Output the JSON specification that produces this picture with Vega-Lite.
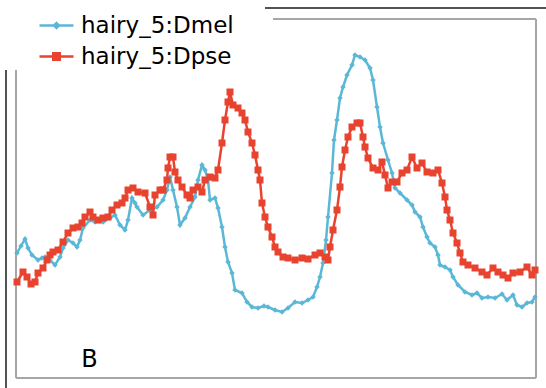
{
  "$schema": "https://vega.github.io/schema/vega-lite/v6.json",
  "width": 520,
  "height": 359,
  "autosize": {"type": "none"},
  "padding": {"left": 16, "top": 19, "right": 10, "bottom": 10},
  "background": "white",
  "config": {"view": {"stroke": null}, "font": "DejaVu Sans"},
  "datasets": {
    "frameGray": [
      {"x": 0, "x2": 520, "y": 0, "y2": 0},
      {"x": 520, "x2": 520, "y": 0, "y2": 359},
      {"x": 257, "x2": 520, "y": 359, "y2": 359},
      {"x": 0, "x2": 0, "y": 0, "y2": 308}
    ],
    "frameBlack": [
      {"x": 249, "x2": 530, "y": 370, "y2": 370},
      {"x": -10, "x2": -10, "y": -10, "y2": 308}
    ],
    "series": [
      {"series": "hairy_5:Dmel", "x": 1, "y": 125}, {"series": "hairy_5:Dmel", "x": 5, "y": 132}, {"series": "hairy_5:Dmel", "x": 9, "y": 139}, {"series": "hairy_5:Dmel", "x": 12, "y": 130}, {"series": "hairy_5:Dmel", "x": 16, "y": 123}, {"series": "hairy_5:Dmel", "x": 22, "y": 118}, {"series": "hairy_5:Dmel", "x": 26, "y": 120}, {"series": "hairy_5:Dmel", "x": 29, "y": 121}, {"series": "hairy_5:Dmel", "x": 34, "y": 118}, {"series": "hairy_5:Dmel", "x": 39, "y": 113}, {"series": "hairy_5:Dmel", "x": 44, "y": 121}, {"series": "hairy_5:Dmel", "x": 47, "y": 130}, {"series": "hairy_5:Dmel", "x": 52, "y": 138}, {"series": "hairy_5:Dmel", "x": 57, "y": 135}, {"series": "hairy_5:Dmel", "x": 61, "y": 131}, {"series": "hairy_5:Dmel", "x": 64, "y": 138}, {"series": "hairy_5:Dmel", "x": 67, "y": 150}, {"series": "hairy_5:Dmel", "x": 74, "y": 158}, {"series": "hairy_5:Dmel", "x": 79, "y": 156}, {"series": "hairy_5:Dmel", "x": 87, "y": 156}, {"series": "hairy_5:Dmel", "x": 94, "y": 160}, {"series": "hairy_5:Dmel", "x": 99, "y": 163}, {"series": "hairy_5:Dmel", "x": 104, "y": 153}, {"series": "hairy_5:Dmel", "x": 109, "y": 148}, {"series": "hairy_5:Dmel", "x": 112, "y": 158}, {"series": "hairy_5:Dmel", "x": 116, "y": 180}, {"series": "hairy_5:Dmel", "x": 119, "y": 175}, {"series": "hairy_5:Dmel", "x": 121, "y": 171}, {"series": "hairy_5:Dmel", "x": 127, "y": 163}, {"series": "hairy_5:Dmel", "x": 134, "y": 168}, {"series": "hairy_5:Dmel", "x": 141, "y": 171}, {"series": "hairy_5:Dmel", "x": 147, "y": 178}, {"series": "hairy_5:Dmel", "x": 151, "y": 188}, {"series": "hairy_5:Dmel", "x": 154, "y": 201}, {"series": "hairy_5:Dmel", "x": 157, "y": 188}, {"series": "hairy_5:Dmel", "x": 161, "y": 171}, {"series": "hairy_5:Dmel", "x": 164, "y": 153}, {"series": "hairy_5:Dmel", "x": 169, "y": 160}, {"series": "hairy_5:Dmel", "x": 174, "y": 171}, {"series": "hairy_5:Dmel", "x": 179, "y": 181}, {"series": "hairy_5:Dmel", "x": 182, "y": 198}, {"series": "hairy_5:Dmel", "x": 186, "y": 213}, {"series": "hairy_5:Dmel", "x": 189, "y": 208}, {"series": "hairy_5:Dmel", "x": 192, "y": 198}, {"series": "hairy_5:Dmel", "x": 194, "y": 178}, {"series": "hairy_5:Dmel", "x": 199, "y": 180}, {"series": "hairy_5:Dmel", "x": 202, "y": 170}, {"series": "hairy_5:Dmel", "x": 206, "y": 151}, {"series": "hairy_5:Dmel", "x": 209, "y": 131}, {"series": "hairy_5:Dmel", "x": 212, "y": 116}, {"series": "hairy_5:Dmel", "x": 216, "y": 105}, {"series": "hairy_5:Dmel", "x": 219, "y": 88}, {"series": "hairy_5:Dmel", "x": 226, "y": 85}, {"series": "hairy_5:Dmel", "x": 231, "y": 76}, {"series": "hairy_5:Dmel", "x": 236, "y": 71}, {"series": "hairy_5:Dmel", "x": 242, "y": 70}, {"series": "hairy_5:Dmel", "x": 248, "y": 72}, {"series": "hairy_5:Dmel", "x": 252, "y": 71}, {"series": "hairy_5:Dmel", "x": 259, "y": 68}, {"series": "hairy_5:Dmel", "x": 266, "y": 66}, {"series": "hairy_5:Dmel", "x": 272, "y": 70}, {"series": "hairy_5:Dmel", "x": 279, "y": 76}, {"series": "hairy_5:Dmel", "x": 286, "y": 75}, {"series": "hairy_5:Dmel", "x": 292, "y": 78}, {"series": "hairy_5:Dmel", "x": 297, "y": 81}, {"series": "hairy_5:Dmel", "x": 301, "y": 91}, {"series": "hairy_5:Dmel", "x": 304, "y": 101}, {"series": "hairy_5:Dmel", "x": 307, "y": 115}, {"series": "hairy_5:Dmel", "x": 310, "y": 138}, {"series": "hairy_5:Dmel", "x": 312, "y": 161}, {"series": "hairy_5:Dmel", "x": 316, "y": 205}, {"series": "hairy_5:Dmel", "x": 318, "y": 238}, {"series": "hairy_5:Dmel", "x": 321, "y": 258}, {"series": "hairy_5:Dmel", "x": 324, "y": 280}, {"series": "hairy_5:Dmel", "x": 327, "y": 291}, {"series": "hairy_5:Dmel", "x": 331, "y": 303}, {"series": "hairy_5:Dmel", "x": 336, "y": 313}, {"series": "hairy_5:Dmel", "x": 339, "y": 323}, {"series": "hairy_5:Dmel", "x": 344, "y": 321}, {"series": "hairy_5:Dmel", "x": 349, "y": 318}, {"series": "hairy_5:Dmel", "x": 354, "y": 310}, {"series": "hairy_5:Dmel", "x": 357, "y": 298}, {"series": "hairy_5:Dmel", "x": 361, "y": 271}, {"series": "hairy_5:Dmel", "x": 364, "y": 251}, {"series": "hairy_5:Dmel", "x": 367, "y": 235}, {"series": "hairy_5:Dmel", "x": 372, "y": 218}, {"series": "hairy_5:Dmel", "x": 376, "y": 205}, {"series": "hairy_5:Dmel", "x": 379, "y": 190}, {"series": "hairy_5:Dmel", "x": 384, "y": 185}, {"series": "hairy_5:Dmel", "x": 391, "y": 178}, {"series": "hairy_5:Dmel", "x": 396, "y": 173}, {"series": "hairy_5:Dmel", "x": 399, "y": 166}, {"series": "hairy_5:Dmel", "x": 404, "y": 161}, {"series": "hairy_5:Dmel", "x": 407, "y": 151}, {"series": "hairy_5:Dmel", "x": 411, "y": 141}, {"series": "hairy_5:Dmel", "x": 414, "y": 135}, {"series": "hairy_5:Dmel", "x": 419, "y": 131}, {"series": "hairy_5:Dmel", "x": 422, "y": 123}, {"series": "hairy_5:Dmel", "x": 424, "y": 113}, {"series": "hairy_5:Dmel", "x": 429, "y": 111}, {"series": "hairy_5:Dmel", "x": 434, "y": 108}, {"series": "hairy_5:Dmel", "x": 437, "y": 101}, {"series": "hairy_5:Dmel", "x": 442, "y": 93}, {"series": "hairy_5:Dmel", "x": 449, "y": 86}, {"series": "hairy_5:Dmel", "x": 456, "y": 83}, {"series": "hairy_5:Dmel", "x": 461, "y": 85}, {"series": "hairy_5:Dmel", "x": 466, "y": 80}, {"series": "hairy_5:Dmel", "x": 472, "y": 81}, {"series": "hairy_5:Dmel", "x": 479, "y": 80}, {"series": "hairy_5:Dmel", "x": 486, "y": 84}, {"series": "hairy_5:Dmel", "x": 491, "y": 78}, {"series": "hairy_5:Dmel", "x": 497, "y": 83}, {"series": "hairy_5:Dmel", "x": 501, "y": 73}, {"series": "hairy_5:Dmel", "x": 506, "y": 71}, {"series": "hairy_5:Dmel", "x": 511, "y": 75}, {"series": "hairy_5:Dmel", "x": 516, "y": 76}, {"series": "hairy_5:Dmel", "x": 519, "y": 81},
      {"series": "hairy_5:Dpse", "x": 1, "y": 96}, {"series": "hairy_5:Dpse", "x": 7, "y": 106}, {"series": "hairy_5:Dpse", "x": 11, "y": 101}, {"series": "hairy_5:Dpse", "x": 15, "y": 94}, {"series": "hairy_5:Dpse", "x": 19, "y": 96}, {"series": "hairy_5:Dpse", "x": 22, "y": 105}, {"series": "hairy_5:Dpse", "x": 27, "y": 110}, {"series": "hairy_5:Dpse", "x": 31, "y": 118}, {"series": "hairy_5:Dpse", "x": 34, "y": 123}, {"series": "hairy_5:Dpse", "x": 37, "y": 126}, {"series": "hairy_5:Dpse", "x": 42, "y": 128}, {"series": "hairy_5:Dpse", "x": 47, "y": 136}, {"series": "hairy_5:Dpse", "x": 52, "y": 145}, {"series": "hairy_5:Dpse", "x": 57, "y": 150}, {"series": "hairy_5:Dpse", "x": 62, "y": 151}, {"series": "hairy_5:Dpse", "x": 66, "y": 155}, {"series": "hairy_5:Dpse", "x": 69, "y": 161}, {"series": "hairy_5:Dpse", "x": 74, "y": 166}, {"series": "hairy_5:Dpse", "x": 77, "y": 161}, {"series": "hairy_5:Dpse", "x": 82, "y": 158}, {"series": "hairy_5:Dpse", "x": 87, "y": 160}, {"series": "hairy_5:Dpse", "x": 92, "y": 161}, {"series": "hairy_5:Dpse", "x": 96, "y": 168}, {"series": "hairy_5:Dpse", "x": 101, "y": 173}, {"series": "hairy_5:Dpse", "x": 106, "y": 175}, {"series": "hairy_5:Dpse", "x": 109, "y": 180}, {"series": "hairy_5:Dpse", "x": 112, "y": 188}, {"series": "hairy_5:Dpse", "x": 117, "y": 190}, {"series": "hairy_5:Dpse", "x": 122, "y": 186}, {"series": "hairy_5:Dpse", "x": 129, "y": 185}, {"series": "hairy_5:Dpse", "x": 134, "y": 171}, {"series": "hairy_5:Dpse", "x": 137, "y": 163}, {"series": "hairy_5:Dpse", "x": 139, "y": 183}, {"series": "hairy_5:Dpse", "x": 144, "y": 188}, {"series": "hairy_5:Dpse", "x": 147, "y": 188}, {"series": "hairy_5:Dpse", "x": 151, "y": 198}, {"series": "hairy_5:Dpse", "x": 152, "y": 210}, {"series": "hairy_5:Dpse", "x": 154, "y": 221}, {"series": "hairy_5:Dpse", "x": 157, "y": 221}, {"series": "hairy_5:Dpse", "x": 159, "y": 206}, {"series": "hairy_5:Dpse", "x": 162, "y": 198}, {"series": "hairy_5:Dpse", "x": 166, "y": 191}, {"series": "hairy_5:Dpse", "x": 171, "y": 183}, {"series": "hairy_5:Dpse", "x": 174, "y": 180}, {"series": "hairy_5:Dpse", "x": 177, "y": 188}, {"series": "hairy_5:Dpse", "x": 182, "y": 191}, {"series": "hairy_5:Dpse", "x": 186, "y": 186}, {"series": "hairy_5:Dpse", "x": 189, "y": 198}, {"series": "hairy_5:Dpse", "x": 194, "y": 201}, {"series": "hairy_5:Dpse", "x": 199, "y": 200}, {"series": "hairy_5:Dpse", "x": 202, "y": 208}, {"series": "hairy_5:Dpse", "x": 206, "y": 235}, {"series": "hairy_5:Dpse", "x": 209, "y": 258}, {"series": "hairy_5:Dpse", "x": 212, "y": 276}, {"series": "hairy_5:Dpse", "x": 214, "y": 286}, {"series": "hairy_5:Dpse", "x": 217, "y": 273}, {"series": "hairy_5:Dpse", "x": 222, "y": 270}, {"series": "hairy_5:Dpse", "x": 226, "y": 265}, {"series": "hairy_5:Dpse", "x": 229, "y": 258}, {"series": "hairy_5:Dpse", "x": 232, "y": 246}, {"series": "hairy_5:Dpse", "x": 236, "y": 235}, {"series": "hairy_5:Dpse", "x": 239, "y": 223}, {"series": "hairy_5:Dpse", "x": 242, "y": 208}, {"series": "hairy_5:Dpse", "x": 244, "y": 198}, {"series": "hairy_5:Dpse", "x": 246, "y": 175}, {"series": "hairy_5:Dpse", "x": 249, "y": 161}, {"series": "hairy_5:Dpse", "x": 252, "y": 151}, {"series": "hairy_5:Dpse", "x": 256, "y": 141}, {"series": "hairy_5:Dpse", "x": 259, "y": 131}, {"series": "hairy_5:Dpse", "x": 262, "y": 126}, {"series": "hairy_5:Dpse", "x": 267, "y": 121}, {"series": "hairy_5:Dpse", "x": 272, "y": 120}, {"series": "hairy_5:Dpse", "x": 279, "y": 118}, {"series": "hairy_5:Dpse", "x": 286, "y": 120}, {"series": "hairy_5:Dpse", "x": 292, "y": 119}, {"series": "hairy_5:Dpse", "x": 299, "y": 123}, {"series": "hairy_5:Dpse", "x": 304, "y": 125}, {"series": "hairy_5:Dpse", "x": 309, "y": 121}, {"series": "hairy_5:Dpse", "x": 312, "y": 118}, {"series": "hairy_5:Dpse", "x": 314, "y": 131}, {"series": "hairy_5:Dpse", "x": 317, "y": 148}, {"series": "hairy_5:Dpse", "x": 321, "y": 168}, {"series": "hairy_5:Dpse", "x": 324, "y": 191}, {"series": "hairy_5:Dpse", "x": 326, "y": 211}, {"series": "hairy_5:Dpse", "x": 329, "y": 228}, {"series": "hairy_5:Dpse", "x": 332, "y": 241}, {"series": "hairy_5:Dpse", "x": 336, "y": 251}, {"series": "hairy_5:Dpse", "x": 341, "y": 255}, {"series": "hairy_5:Dpse", "x": 344, "y": 255}, {"series": "hairy_5:Dpse", "x": 347, "y": 241}, {"series": "hairy_5:Dpse", "x": 349, "y": 231}, {"series": "hairy_5:Dpse", "x": 352, "y": 220}, {"series": "hairy_5:Dpse", "x": 357, "y": 210}, {"series": "hairy_5:Dpse", "x": 362, "y": 208}, {"series": "hairy_5:Dpse", "x": 366, "y": 216}, {"series": "hairy_5:Dpse", "x": 369, "y": 203}, {"series": "hairy_5:Dpse", "x": 372, "y": 190}, {"series": "hairy_5:Dpse", "x": 376, "y": 196}, {"series": "hairy_5:Dpse", "x": 381, "y": 196}, {"series": "hairy_5:Dpse", "x": 386, "y": 205}, {"series": "hairy_5:Dpse", "x": 391, "y": 208}, {"series": "hairy_5:Dpse", "x": 396, "y": 221}, {"series": "hairy_5:Dpse", "x": 401, "y": 210}, {"series": "hairy_5:Dpse", "x": 406, "y": 215}, {"series": "hairy_5:Dpse", "x": 411, "y": 206}, {"series": "hairy_5:Dpse", "x": 417, "y": 205}, {"series": "hairy_5:Dpse", "x": 422, "y": 208}, {"series": "hairy_5:Dpse", "x": 426, "y": 195}, {"series": "hairy_5:Dpse", "x": 429, "y": 181}, {"series": "hairy_5:Dpse", "x": 431, "y": 168}, {"series": "hairy_5:Dpse", "x": 434, "y": 158}, {"series": "hairy_5:Dpse", "x": 437, "y": 145}, {"series": "hairy_5:Dpse", "x": 441, "y": 135}, {"series": "hairy_5:Dpse", "x": 444, "y": 125}, {"series": "hairy_5:Dpse", "x": 447, "y": 116}, {"series": "hairy_5:Dpse", "x": 452, "y": 113}, {"series": "hairy_5:Dpse", "x": 459, "y": 110}, {"series": "hairy_5:Dpse", "x": 466, "y": 106}, {"series": "hairy_5:Dpse", "x": 471, "y": 103}, {"series": "hairy_5:Dpse", "x": 477, "y": 110}, {"series": "hairy_5:Dpse", "x": 482, "y": 106}, {"series": "hairy_5:Dpse", "x": 487, "y": 103}, {"series": "hairy_5:Dpse", "x": 492, "y": 100}, {"series": "hairy_5:Dpse", "x": 497, "y": 105}, {"series": "hairy_5:Dpse", "x": 504, "y": 106}, {"series": "hairy_5:Dpse", "x": 511, "y": 111}, {"series": "hairy_5:Dpse", "x": 516, "y": 103}, {"series": "hairy_5:Dpse", "x": 519, "y": 108}
    ],
    "labels": [{"x": 73.5, "y": 11, "label": "B"}]
  },
  "layer": [
    {
      "data": {"name": "frameGray"},
      "mark": {"type": "rule", "color": "#a6a6a6", "strokeWidth": 2},
      "encoding": {
        "x": {"field": "x", "type": "quantitative", "scale": {"domain": [0, 520], "nice": false, "zero": false}, "axis": null},
        "x2": {"field": "x2"},
        "y": {"field": "y", "type": "quantitative", "scale": {"domain": [0, 359], "nice": false, "zero": false}, "axis": null},
        "y2": {"field": "y2"}
      }
    },
    {
      "data": {"name": "frameBlack"},
      "mark": {"type": "rule", "color": "#1a1a1a", "strokeWidth": 1.5},
      "encoding": {
        "x": {"field": "x", "type": "quantitative"},
        "x2": {"field": "x2"},
        "y": {"field": "y", "type": "quantitative"},
        "y2": {"field": "y2"}
      }
    },
    {
      "data": {"name": "series"},
      "mark": {"type": "line", "strokeWidth": 2.5},
      "encoding": {
        "x": {"field": "x", "type": "quantitative"},
        "y": {"field": "y", "type": "quantitative"},
        "color": {
          "field": "series",
          "type": "nominal",
          "scale": {"domain": ["hairy_5:Dmel", "hairy_5:Dpse"], "range": ["#5bb7d6", "#e8432e"]},
          "legend": {
            "orient": "none",
            "legendX": 22,
            "legendY": -12,
            "title": null,
            "padding": 0,
            "labelFont": "DejaVu Sans",
            "labelFontSize": 23,
            "labelColor": "#000000",
            "labelOffset": 6,
            "rowPadding": -4,
            "symbolSize": 1156,
            "symbolStrokeWidth": 2.5,
            "symbolType": "M-1,0H1",
            "encode": {
              "symbols": {
                "update": {
                  "shape": {"signal": "datum.value === 'hairy_5:Dmel' ? 'M-1,0H1M0,-0.14L0.14,0L0,0.14L-0.14,0Z' : 'M-1,0H1M-0.19,-0.19H0.19V0.19H-0.19Z'"},
                  "fill": {"signal": "datum.value === 'hairy_5:Dmel' ? '#5bb7d6' : '#e8432e'"},
                  "stroke": {"signal": "datum.value === 'hairy_5:Dmel' ? '#5bb7d6' : '#e8432e'"},
                  "strokeWidth": {"value": 2.5},
                  "opacity": {"value": 1}
                }
              }
            }
          }
        }
      }
    },
    {
      "data": {"name": "series"},
      "transform": [{"filter": "datum.series === 'hairy_5:Dmel'"}],
      "mark": {"type": "point", "filled": true, "opacity": 1, "shape": "diamond", "size": 30, "color": "#5bb7d6"},
      "encoding": {
        "x": {"field": "x", "type": "quantitative"},
        "y": {"field": "y", "type": "quantitative"}
      }
    },
    {
      "data": {"name": "series"},
      "transform": [{"filter": "datum.series === 'hairy_5:Dpse'"}],
      "mark": {"type": "point", "filled": true, "opacity": 1, "shape": "square", "size": 49, "color": "#e8432e"},
      "encoding": {
        "x": {"field": "x", "type": "quantitative"},
        "y": {"field": "y", "type": "quantitative"}
      }
    },
    {
      "data": {"name": "labels"},
      "mark": {"type": "text", "font": "DejaVu Sans", "fontSize": 24, "align": "center", "baseline": "alphabetic", "color": "#000000"},
      "encoding": {
        "x": {"field": "x", "type": "quantitative"},
        "y": {"field": "y", "type": "quantitative"},
        "text": {"field": "label"}
      }
    }
  ]
}
